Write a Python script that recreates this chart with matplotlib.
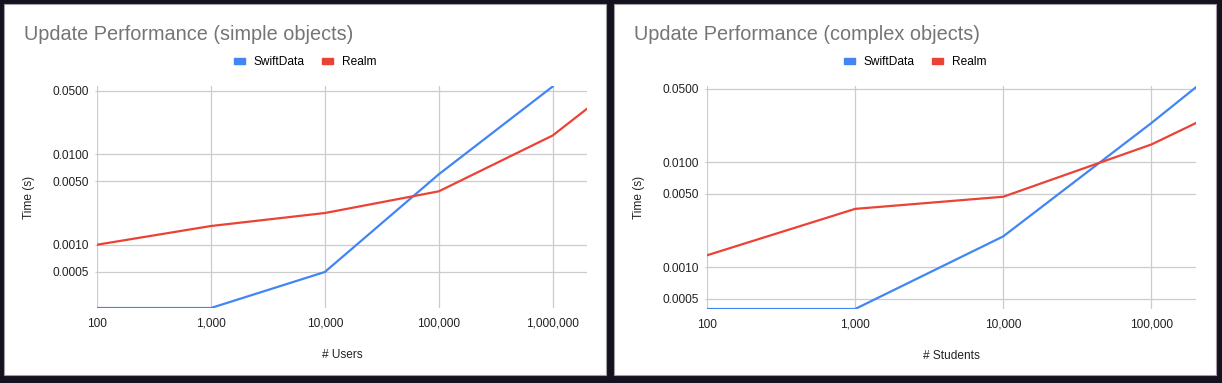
import matplotlib
matplotlib.use('Agg')
import matplotlib.pyplot as plt
from matplotlib.patches import Rectangle, Patch
from matplotlib.ticker import FuncFormatter, FixedLocator, NullLocator

plt.rcParams['font.family'] = ['Liberation Sans', 'DejaVu Sans']

# left chart: simple objects
users = [100, 1000, 10000, 100000, 1000000, 2000000]
swift_simple = [0.0002, 0.0002, 0.0005, 0.0060, 0.056]
realm_simple = [0.0010, 0.00161, 0.00224, 0.00389, 0.0161, 0.0318]

# right chart: complex objects
students = [100, 1000, 10000, 100000, 200000]
swift_complex = [0.0004, 0.0004, 0.00197, 0.0237, 0.052]
realm_complex = [0.0013, 0.0036, 0.0047, 0.0148, 0.0237]

y_ticks = [0.0005, 0.0010, 0.0050, 0.0100, 0.0500]
BLUE = '#4285f4'; RED = '#ea4335'; GRID = '#cccccc'

W, H = 1222, 383
fig = plt.figure(figsize=(W/100, H/100), dpi=100, facecolor='#15111f')

def px(x0, y0, x1, y1):
    return [x0/W, 1-y1/H, (x1-x0)/W, (y1-y0)/H]

def panel(x0, x1, ax_box, xs, sw, rl, xlim, ylim, title, xlabel):
    fig.patches.append(Rectangle((x0/W, 1-375/H), (x1-x0)/W, 371/H, transform=fig.transFigure,
                                 facecolor='white', edgecolor='#a0a0a0', lw=0.8, zorder=-5))
    ax = fig.add_axes(px(*ax_box))
    ax.set_xscale('log'); ax.set_yscale('log')
    ax.plot(xs[:len(sw)], sw, color=BLUE, lw=1.6)
    ax.plot(xs[:len(rl)], rl, color=RED, lw=1.6)
    ax.set_xlim(*xlim); ax.set_ylim(*ylim)
    ax.xaxis.set_major_locator(FixedLocator([x for x in xs if x <= xlim[1] and x in (100, 1000, 10000, 100000, 1000000)]))
    ax.xaxis.set_minor_locator(NullLocator())
    ax.yaxis.set_major_locator(FixedLocator(y_ticks))
    ax.yaxis.set_minor_locator(NullLocator())
    ax.xaxis.set_major_formatter(FuncFormatter(lambda v, p: f'{int(round(v)):,}'))
    ax.yaxis.set_major_formatter(FuncFormatter(lambda v, p: f'{v:.4f}'))
    ax.grid(True, color=GRID, lw=0.9)
    ax.set_axisbelow(True)
    for s in ax.spines.values():
        s.set_visible(False)
    ax.tick_params(axis='y', length=1.5, color=GRID, width=0.9, pad=4.5, labelsize=8.6, labelcolor='#222222')
    ax.tick_params(axis='x', length=0, pad=7, labelsize=8.6, labelcolor='#222222')
    ax.set_xlabel(xlabel, fontsize=8.6, color='#222222', labelpad=14)
    ax.set_ylabel('Time (s)', fontsize=8.6, color='#222222')
    ax.yaxis.set_label_coords((x0 + 31 - ax_box[0]) / (ax_box[2]-ax_box[0]), 0.5)
    fig.text((x0+20)/W, 1-35/H, title, fontsize=14.3, color='#757575', va='center', ha='left')
    handles = [Patch(color=BLUE, label='SwiftData'), Patch(color=RED, label='Realm')]
    fig.legend(handles=handles, loc='center', bbox_to_anchor=((x0+x1)/2/W, 1-62/H), ncol=2, frameon=False,
               fontsize=8.6, handlelength=0.95, handleheight=0.35, handletextpad=0.7, columnspacing=1.45)
    return ax

panel(4, 606, (97, 86, 587, 308), users, swift_simple, realm_simple, (100, 2000000), (0.0002, 0.0567),
      'Update Performance (simple objects)', '# Users')
panel(614, 1216, (707, 86, 1196, 309), students, swift_complex, realm_complex, (100, 200000), (0.0004, 0.0534),
      'Update Performance (complex objects)', '# Students')

fig.savefig('out.png', dpi=100, facecolor=fig.get_facecolor())
